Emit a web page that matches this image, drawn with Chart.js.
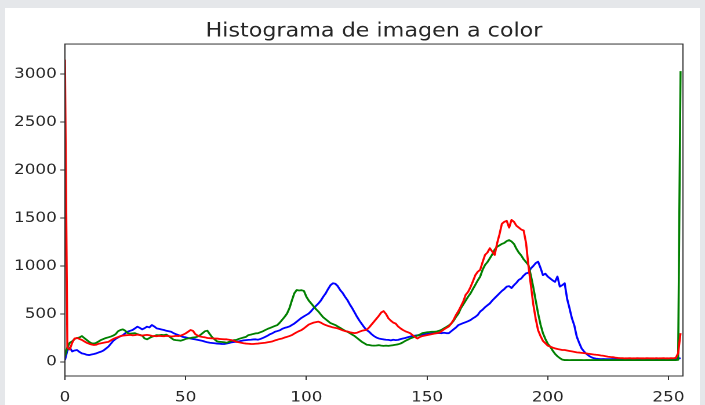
<!DOCTYPE html>
<html><head><meta charset="utf-8">
<script src="https://cdn.jsdelivr.net/npm/chart.js@4"></script>
<style>
html,body{margin:0;padding:0;background:#e5e7ea;width:705px;height:405px;overflow:hidden}
#fig{position:absolute;left:5px;top:8px;width:695px;height:397px;background:#fff}
#wrap{position:absolute;left:0;top:0;width:608px;height:405px;transform:scaleX(1.1595);transform-origin:0 0}
</style></head><body>
<div id="fig"></div>
<div id="wrap"><canvas id="c" width="608" height="405"></canvas></div>
<script>
const chartTitle = "Histograma de imagen a color";
const xTicks = [0, 50, 100, 150, 200, 250];
const yTicks = [0, 500, 1000, 1500, 2000, 2500, 3000];
const xRange = [0, 256];
const yRange = [-146, 3312];

const blue = [
20,120,150,110,120,125,105,90,85,75,72,78,83,90,100,108,
120,140,160,190,220,240,255,268,280,300,315,325,333,350,368,355,
340,352,368,360,385,370,350,345,338,333,325,320,315,300,290,280,
270,260,257,250,245,240,235,230,225,220,212,205,200,198,195,192,
190,188,187,192,198,205,208,210,215,220,225,228,230,232,235,236,
232,240,250,262,275,290,300,315,322,330,345,355,362,370,385,400,
420,440,460,475,490,505,530,560,585,610,640,680,715,760,800,820,
815,790,750,720,680,645,600,560,515,470,430,395,360,333,315,290,
270,255,245,240,235,232,230,225,232,228,230,238,245,250,258,265,
270,275,278,280,285,290,292,295,298,300,300,302,300,305,300,300,
320,340,360,385,395,405,415,425,437,455,470,490,525,545,570,590,
610,640,665,690,715,740,760,785,790,770,800,825,855,870,900,923,
930,975,1000,1030,1045,980,905,920,890,870,850,835,890,785,800,820,
660,560,455,380,265,200,142,110,85,65,50,40,35,32,30,31,
30,29,30,31,30,29,30,30,31,30,29,30,30,31,30,30,
29,30,30,31,30,30,29,30,30,31,30,30,30,32,35,40
];

const green = [
60,150,200,215,240,250,255,270,250,230,210,195,192,200,215,230,
240,250,257,265,275,290,320,333,340,325,300,295,298,300,290,282,
275,245,236,250,262,270,280,278,282,280,285,270,250,232,228,225,
222,230,240,246,250,255,257,265,280,300,320,326,290,257,235,215,
210,208,205,200,210,220,228,230,240,248,255,262,280,285,292,298,
300,310,320,333,345,355,365,375,385,410,440,470,505,560,640,715,
750,745,748,740,680,640,610,580,550,525,495,465,445,425,405,395,
385,370,355,340,325,315,300,285,270,250,230,210,195,180,177,172,
170,172,175,170,168,170,168,172,175,180,184,192,205,220,232,245,
255,265,275,285,300,305,310,312,315,315,318,325,335,350,365,380,
400,430,470,505,560,600,640,680,715,760,805,850,890,960,1010,1040,
1080,1120,1170,1200,1215,1230,1240,1260,1270,1255,1230,1180,1140,1110,1070,1040,
1010,900,780,640,505,390,300,240,190,160,120,85,60,40,25,20,
20,19,20,20,21,20,20,19,20,20,20,21,20,20,19,20,
20,20,21,20,20,20,19,20,20,20,21,20,20,20,19,20,
20,20,21,20,20,19,20,20,20,21,20,20,20,20,22,3030
];

const red = [
3150,150,130,200,245,250,240,230,215,200,190,182,177,180,190,195,
200,205,210,225,240,250,260,270,275,278,280,282,278,280,285,280,
275,280,282,278,272,270,268,272,270,268,272,270,265,268,272,270,
275,285,298,315,333,325,290,275,265,260,257,250,248,246,245,244,
240,238,236,236,232,228,220,210,205,200,195,192,190,188,187,190,
192,195,198,200,205,210,215,225,232,240,245,255,262,270,280,295,
310,322,333,350,370,390,400,410,415,420,410,395,385,375,368,360,
355,350,340,330,322,318,310,305,300,305,315,325,330,335,360,390,
420,450,480,515,530,500,455,430,410,400,370,350,333,320,310,300,
280,260,245,260,270,275,280,285,290,295,300,305,320,340,355,370,
400,440,490,530,580,630,700,730,780,840,905,940,960,1040,1115,1140,
1185,1150,1115,1235,1330,1440,1460,1470,1400,1480,1460,1420,1400,1380,1370,1240,
1000,800,600,450,330,270,220,195,170,160,150,142,135,130,125,125,
120,115,110,105,100,98,95,92,90,85,82,78,75,73,68,65,
60,55,52,50,45,42,40,40,38,39,40,38,38,40,39,38,
38,40,39,38,38,40,38,39,40,38,38,40,39,42,90,300
];

const toXY = arr => arr.map((v, i) => ({x: i, y: v}));
const textColor = '#262626';
const font = {family: "'DejaVu Sans', sans-serif", size: 14.5};

const framePlugin = {
  id: 'frame',
  afterLayout(chart) {
    // centre the title over the plot area, as matplotlib does
    const t = chart.titleBlock, a = chart.chartArea;
    if (t) { t.left = a.left; t.right = a.right; t.width = a.right - a.left; }
  },
  afterDatasetsDraw(chart) {
    const a = chart.chartArea, ctx = chart.ctx;
    ctx.save();
    ctx.strokeStyle = '#333';
    ctx.lineWidth = 1;
    ctx.strokeRect(a.left, a.top, a.right - a.left, a.bottom - a.top);
    ctx.restore();
  }
};

new Chart(document.getElementById('c'), {
  type: 'line',
  data: {
    datasets: [
      {label: 'b', data: toXY(blue), borderColor: '#0000ff', order: 2},
      {label: 'g', data: toXY(green), borderColor: '#008000', order: 1},
      {label: 'r', data: toXY(red), borderColor: '#ff0000', order: 0}
    ]
  },
  plugins: [framePlugin],
  options: {
    responsive: false,
    devicePixelRatio: 2,
    animation: false,
    layout: {padding: {left: 0, right: 19, top: 0, bottom: 0}},
    elements: {
      point: {radius: 0},
      line: {borderWidth: 1.8, tension: 0, borderJoinStyle: 'round', fill: false}
    },
    plugins: {
      legend: {display: false},
      tooltip: {enabled: false},
      title: {
        display: true,
        text: chartTitle,
        color: textColor,
        font: {family: "'DejaVu Sans', sans-serif", size: 19.2, weight: 'normal'},
        padding: {top: 20, bottom: 1}
      }
    },
    scales: {
      x: {
        type: 'linear',
        min: xRange[0], max: xRange[1],
        afterBuildTicks: s => { s.ticks = xTicks.map(v => ({value: v})); },
        afterFit: s => { s.height = 29; },
        border: {display: false},
        grid: {drawOnChartArea: false, drawTicks: true, tickLength: 4, tickColor: '#333', tickWidth: 1},
        ticks: {color: textColor, font: font, padding: 9, maxRotation: 0, callback: v => String(v)}
      },
      y: {
        type: 'linear',
        min: yRange[0], max: yRange[1],
        afterBuildTicks: s => { s.ticks = yTicks.map(v => ({value: v})); },
        afterFit: s => { s.width = 56; },
        border: {display: false},
        grid: {drawOnChartArea: false, drawTicks: true, tickLength: 4, tickColor: '#333', tickWidth: 1},
        ticks: {color: textColor, font: font, padding: 3, callback: v => String(v)}
      }
    }
  }
});
</script>
</body></html>
